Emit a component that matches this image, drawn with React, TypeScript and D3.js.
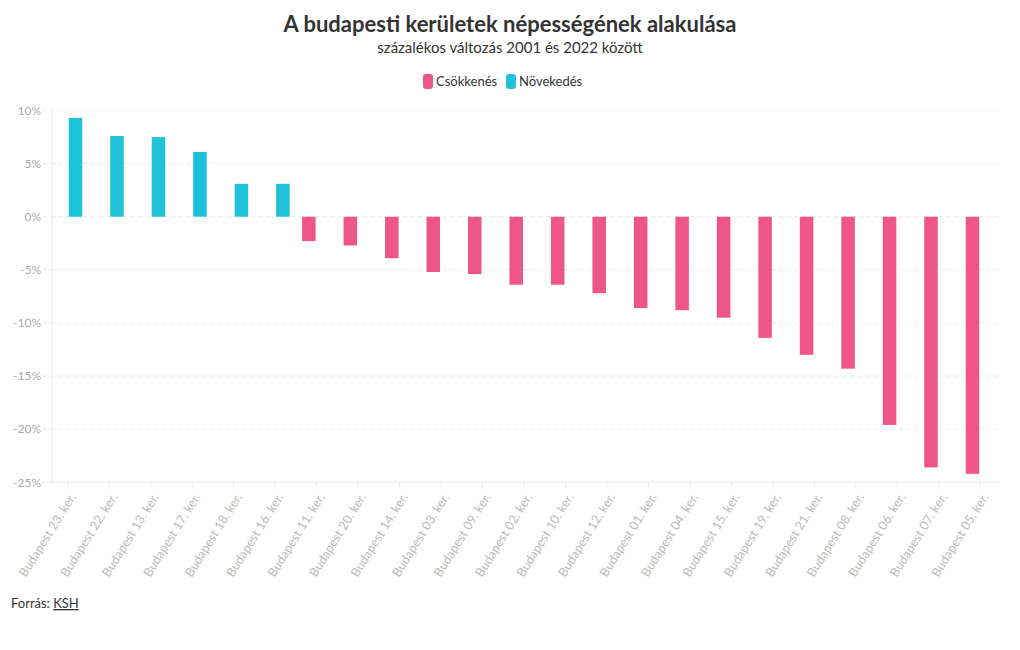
import React from "react";
import * as d3 from "d3";

const districts = [
  "Budapest 23. ker.", "Budapest 22. ker.", "Budapest 13. ker.", "Budapest 17. ker.",
  "Budapest 18. ker.", "Budapest 16. ker.", "Budapest 11. ker.", "Budapest 20. ker.",
  "Budapest 14. ker.", "Budapest 03. ker.", "Budapest 09. ker.", "Budapest 02. ker.",
  "Budapest 10. ker.", "Budapest 12. ker.", "Budapest 01. ker.", "Budapest 04. ker.",
  "Budapest 15. ker.", "Budapest 19. ker.", "Budapest 21. ker.", "Budapest 08. ker.",
  "Budapest 06. ker.", "Budapest 07. ker.", "Budapest 05. ker.",
];
const changeValues = [
  9.3, 7.6, 7.5, 6.1, 3.1, 3.1, -2.3, -2.7, -3.9, -5.2, -5.4, -6.4,
  -6.4, -7.2, -8.6, -8.8, -9.5, -11.4, -13.0, -14.3, -19.6, -23.6, -24.2,
];
const seriesNames = ["Csökkenés", "Növekedés"];
const seriesColors = ["#ee5588", "#1ec3da"];
const yTicks = [10, 5, 0, -5, -10, -15, -20, -25];

const W = 1020;
const H = 650;
const FONT = "Lato, 'Open Sans', sans-serif";

export default function App() {
  const x = d3.scaleBand<string>().domain(districts).range([47, 1001]).padding(0);
  const sub = d3
    .scaleBand<string>()
    .domain(seriesNames)
    .range([0, x.bandwidth()])
    .paddingInner(0.13)
    .paddingOuter(0.4);
  const y = d3.scaleLinear().domain([-25, 10]).range([482.3, 110.5]);
  const color = d3.scaleOrdinal<string, string>().domain(seriesNames).range(seriesColors);

  const gridX0 = 43;
  const gridX1 = 1000;
  const axisX = 52;

  return (
    <svg
      width={W}
      height={H}
      style={{ position: "absolute", left: 0, top: 0, display: "block", background: "#fff" }}
      fontFamily={FONT}
    >
      <text x={510} y={32} textAnchor="middle" fontSize={22} fontWeight={700} fill="#333">
        A budapesti kerületek népességének alakulása
      </text>
      <text x={510} y={53} textAnchor="middle" fontSize={15} fill="#333">
        százalékos változás 2001 és 2022 között
      </text>

      {/* legend */}
      <g>
        <rect x={423} y={74} width={10} height={15} rx={3} fill={seriesColors[0]} />
        <text x={436} y={86} fontSize={13} fill="#333">Csökkenés</text>
        <rect x={506} y={74} width={10} height={15} rx={3} fill={seriesColors[1]} />
        <text x={519} y={86} fontSize={13} fill="#333">Növekedés</text>
      </g>

      {/* grid */}
      {yTicks.map((t) => (
        <g key={t}>
          {t !== -25 && (
            <line
              x1={gridX0}
              x2={gridX1}
              y1={y(t)}
              y2={y(t)}
              stroke="#e6e6e6"
              strokeDasharray="4,4"
            />
          )}
          <text
            x={41}
            y={y(t)}
            dy="0.35em"
            textAnchor="end"
            fontSize={12}
            fill="#aaa"
          >
            {t}%
          </text>
        </g>
      ))}
      <line x1={axisX} x2={axisX} y1={110} y2={y(-25)} stroke="#e6e6e6" />
      <line x1={gridX0} x2={gridX1} y1={y(-25)} y2={y(-25)} stroke="#e6e6e6" />

      {/* bars */}
      {districts.map((d, i) => {
        const v = changeValues[i];
        const s = v < 0 ? seriesNames[0] : seriesNames[1];
        const bx = (x(d) as number) + (sub(s) as number);
        return (
          <rect
            key={d}
            x={bx}
            y={y(Math.max(0, v))}
            width={sub.bandwidth()}
            height={Math.abs(y(v) - y(0))}
            fill={color(s)}
          />
        );
      })}

      {/* x ticks and labels */}
      {districts.map((d) => {
        const cx = (x(d) as number) + x.bandwidth() / 2;
        return (
          <g key={d}>
            <line x1={cx} x2={cx} y1={y(-25)} y2={y(-25) + 5} stroke="#e6e6e6" />
            <text
              transform={`translate(${cx + 5},${y(-25) + 12}) rotate(-58)`}
              textAnchor="end"
              dy="0.35em"
              fontSize={12.6}
              fill="#bbb"
            >
              {d}
            </text>
          </g>
        );
      })}

      {/* footer */}
      <text x={11} y={608} fontSize={13} fill="#333">
        Forrás: <tspan textDecoration="underline">KSH</tspan>
      </text>
    </svg>
  );
}
